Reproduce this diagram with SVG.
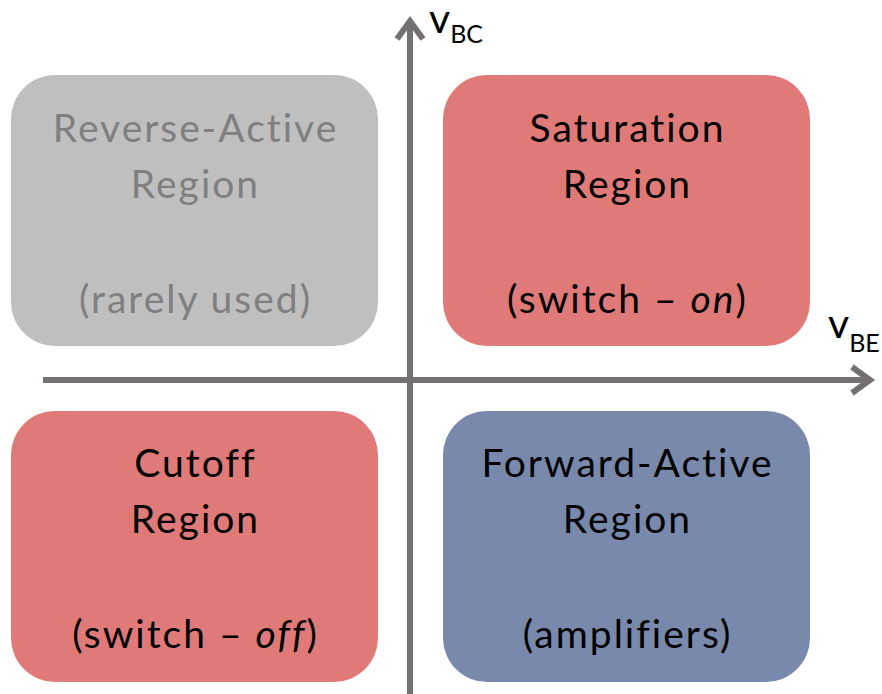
<svg xmlns="http://www.w3.org/2000/svg" width="882" height="694" viewBox="0 0 882 694">
<style>
.box-red{fill:#E07A78}
.box-gray{fill:#BFBFBF}
.box-blue{fill:#7889AB}
.t{font-family:Lato,"Open Sans","Liberation Sans",sans-serif;font-size:39px;letter-spacing:2px;text-anchor:middle;fill:#000}
.tg{fill:#7F7F7F}
.ax{stroke:#767171;stroke-width:6;fill:none}
.lab{font-family:Lato,"Open Sans","Liberation Sans",sans-serif;fill:#000}
</style>
<rect width="882" height="694" fill="#fff"/>
<g id="reverse-active">
<rect class="box-gray" x="11" y="75" width="367" height="271" rx="44"/>
<text class="t tg" x="195.5" y="142">Reverse-Active</text>
<text class="t tg" x="195.5" y="198">Region</text>
<text class="t tg" x="195.5" y="313">(rarely used)</text>
</g>
<g id="saturation">
<rect class="box-red" x="443" y="75" width="367" height="271" rx="44"/>
<text class="t" x="627.5" y="142">Saturation</text>
<text class="t" x="627.5" y="198">Region</text>
<text class="t" x="627.5" y="313">(switch – <tspan font-style="italic">on</tspan>)</text>
</g>
<g id="cutoff">
<rect class="box-red" x="11" y="411" width="367" height="271" rx="44"/>
<text class="t" x="195.5" y="477">Cutoff</text>
<text class="t" x="195.5" y="533">Region</text>
<text class="t" x="195.5" y="648">(switch – <tspan font-style="italic">off</tspan>)</text>
</g>
<g id="forward-active">
<rect class="box-blue" x="443" y="411" width="367" height="271" rx="44"/>
<text class="t" x="627.5" y="477">Forward-Active</text>
<text class="t" x="627.5" y="533">Region</text>
<text class="t" x="627.5" y="648">(amplifiers)</text>
</g>
<g id="axes">
<line class="ax" x1="43" y1="380" x2="870" y2="380"/>
<polyline class="ax" points="852,367 870,380 852,393" stroke-linejoin="miter"/>
<line class="ax" x1="410" y1="694" x2="410" y2="21"/>
<polyline class="ax" points="397,39 410,21 423,39" stroke-linejoin="miter"/>
</g>
<g id="label-vbc">
<text class="lab" x="429" y="33" font-size="41">v<tspan font-size="25" dy="10">BC</tspan></text>
</g>
<g id="label-vbe">
<text class="lab" x="828" y="338" font-size="41">v<tspan font-size="25" dy="14">BE</tspan></text>
</g>
</svg>
